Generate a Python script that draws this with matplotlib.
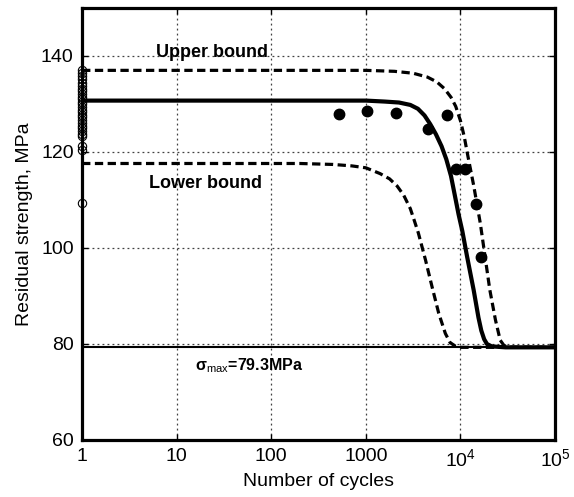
import matplotlib.pyplot as plt

plt.rcParams["font.family"] = ["Liberation Sans", "DejaVu Sans"]
plt.rcParams["mathtext.fontset"] = "custom"
plt.rcParams["mathtext.rm"] = "Liberation Sans"
plt.rcParams["mathtext.it"] = "Liberation Sans:italic"
plt.rcParams["mathtext.bf"] = "Liberation Sans:bold"

# Static strength of virgin specimens (all tested at N = 1)
static_n = [1] * 28
static_r = [137.0, 136.4, 135.8, 135.1, 134.4, 133.8, 133.2, 132.6, 132.0,
            131.5, 131.0, 130.4, 129.9, 129.4, 128.8, 128.3, 127.7, 127.2,
            126.6, 126.0, 125.5, 124.9, 124.3, 123.8, 123.3, 121.3, 120.4,
            109.3]

# Residual strength after fatigue cycling
fat_n = [520, 1030, 2090, 4500, 7160, 8950, 11200, 14600, 16300]
fat_r = [127.9, 128.5, 128.1, 124.8, 127.7, 116.5, 116.5, 109.2, 98.2]

# Predicted curves (mean, upper and lower bound)
mean_n = [1, 10, 100, 1000, 1580, 2240, 2950, 3550, 4170, 4790, 5500,
          6310, 7080, 7940, 8710, 9550, 10470, 11750, 13800, 15500, 16600,
          17800, 19050, 21400, 30000, 1e5]
mean_r = [130.7, 130.7, 130.7, 130.7, 130.5, 130.3, 129.8, 129.0, 127.6,
          125.8, 123.7, 121.2, 118.5, 115.0, 111.0, 107.0, 103.5, 98.2,
          91.2, 85.5, 82.8, 81.0, 80.0, 79.5, 79.3, 79.3]

upper_n = [1, 10, 100, 1000, 2000, 3160, 4470, 5620, 6760, 7940, 8910,
           10000, 10960, 12020, 13800, 16220, 18200, 20420, 23440, 26300,
           28800, 33000, 1e5]
upper_r = [137.0, 137.0, 137.0, 137.0, 136.8, 136.4, 135.6, 134.6, 133.2,
           131.4, 129.5, 126.5, 123.2, 119.0, 113.0, 105.1, 98.2, 91.3,
           85.0, 80.8, 79.7, 79.3, 79.3]

lower_n = [1, 10, 100, 200, 450, 710, 1000, 1410, 1780, 2140, 2510, 2950,
           3240, 3590, 4270, 5010, 5890, 6920, 7760, 8910, 10000, 1e5]
lower_r = [117.6, 117.6, 117.6, 117.6, 117.4, 117.1, 116.7, 115.5, 114.4,
           112.9, 111.0, 108.2, 105.8, 103.1, 97.5, 91.9, 86.4, 82.2, 80.3,
           79.5, 79.3, 79.3]

sigma_max = 79.3

x_ticks = [1, 10, 100, 1000, 1e4, 1e5]
x_labels = ["1", "10", "100", "1000", "$10^4$", "$10^5$"]
y_ticks = [60, 80, 100, 120, 140]

fig = plt.figure(figsize=(5.74, 4.97), dpi=100)
ax = fig.add_axes([0.143, 0.1147, 0.824, 0.8693])

ax.set_xscale("log")
ax.set_xlim(1, 1e5)
ax.set_ylim(60, 150)

ax.grid(True, which="major", linestyle=(0, (1.5, 2.5)), color="0.25",
        linewidth=0.9)
ax.set_axisbelow(True)

ax.axhline(sigma_max, color="black", linewidth=1.5, zorder=3)

dash = (0, (2.6, 1.4))
ax.plot(mean_n, mean_r, color="black", linewidth=3.0, zorder=4,
        solid_joinstyle="round")
ax.plot(upper_n, upper_r, color="black", linewidth=2.3, linestyle=dash, zorder=4)
ax.plot(lower_n, lower_r, color="black", linewidth=2.3, linestyle=dash, zorder=4)

ax.plot(static_n, static_r, linestyle="none", marker="o", markersize=6,
        markerfacecolor="none", markeredgecolor="black", markeredgewidth=0.8,
        clip_on=False, zorder=5)
ax.plot(fat_n, fat_r, linestyle="none", marker="o", markersize=7.5,
        color="black", zorder=5)

ax.text(23.5, 140.7, "Upper bound", fontsize=13, fontweight="bold",
        ha="center", va="center")
ax.text(20, 113.5, "Lower bound", fontsize=13, fontweight="bold",
        ha="center", va="center")
ax.text(15.5, 75.4, r"$\mathbf{\sigma}_{\mathrm{max}}$=79.3MPa", fontsize=11.5,
        fontweight="bold", ha="left", va="center")

ax.set_xticks(x_ticks)
ax.set_xticklabels(x_labels)
ax.set_yticks(y_ticks)
ax.minorticks_off()
ax.tick_params(axis="both", direction="in", length=4, width=1,
               labelsize=14, top=True, right=True, pad=6)

for spine in ax.spines.values():
    spine.set_linewidth(2.3)

ax.set_xlabel("Number of cycles", fontsize=14, labelpad=2)
ax.set_ylabel("Residual strength, MPa", fontsize=14, labelpad=6)

fig.savefig("out.png", dpi=100)
